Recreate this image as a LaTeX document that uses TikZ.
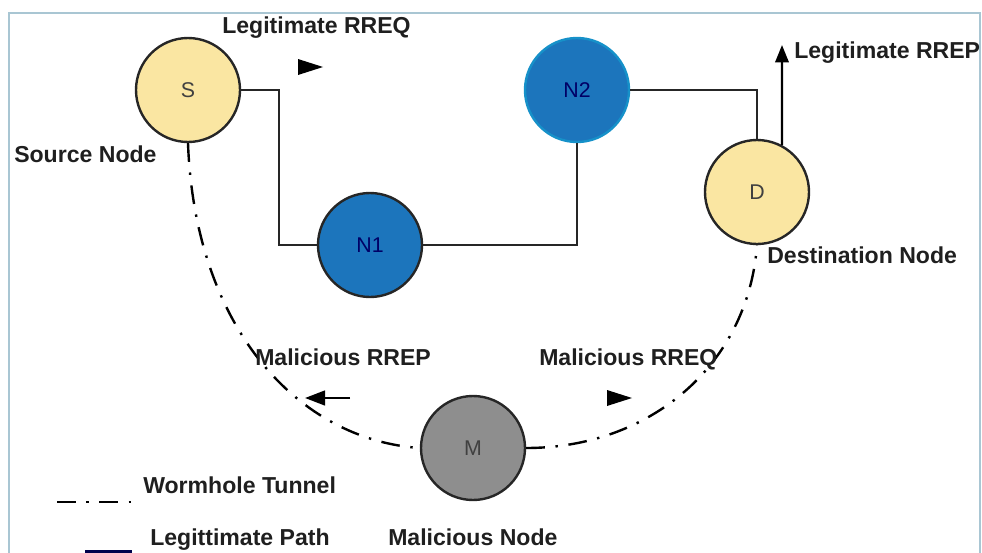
\documentclass[tikz,border=0pt]{standalone}
\usepackage{fontspec}
\setmainfont{Liberation Sans}
\usetikzlibrary{arrows.meta}

\definecolor{endyellow}{HTML}{FAE6A2}
\definecolor{hopblue}{HTML}{1C75BC}
\definecolor{badgray}{HTML}{8E8E8E}
\definecolor{framecol}{HTML}{A9C6D3}

\begin{document}
\begin{tikzpicture}[x=0.75pt,y=0.75pt,yscale=-1,xscale=1,
  netnode/.style={circle,minimum size=78pt,inner sep=0pt,line width=1.8pt,draw=black!85,font=\fontsize{16}{18}\selectfont},
  lbl/.style={anchor=base west,inner sep=0pt,font=\fontsize{17.3}{20}\selectfont\bfseries,text=black!88},
  tunnel/.style={line width=1.8pt,dash pattern=on 14pt off 8pt on 1.8pt off 8pt},
  legit/.style={line width=1.8pt,draw=black!85}]
\useasboundingbox (0,0) rectangle (982,553);

%Frame
\draw[framecol,line width=1.5pt] (9,556) -- (9,13) -- (980,13) -- (980,556);

%Nodes
\node[netnode,fill=endyellow,text=black!75] (S) at (188,90) {S};
\node[netnode,fill=hopblue,text=blue!40!black] (N1) at (370,245) {N1};
\node[netnode,fill=hopblue,draw=hopblue!80!cyan,text=blue!40!black] (N2) at (577,90) {N2};
\node[netnode,fill=endyellow,text=black!75] (D) at (757,192) {D};
\node[netnode,fill=badgray,text=black!75] (M) at (473,448) {M};

%Legitimate path
\draw[legit] (S.east) -- ++(38,0) |- (N1.west);
\draw[legit] (N1.east) -| (N2.south);
\draw[legit] (N2.east) -| (D.north);

%Wormhole tunnel
\draw[tunnel] (S.south) .. controls (195,330) and (300,440) .. (M.west);
\draw[tunnel] (M.east) .. controls (650,448) and (748,365) .. (D.south);

%Arrows
\coordinate (rrepTip) at (782,45);
\draw[line width=1.8pt,-{Triangle[length=13pt,width=10pt]}] (D.62) -- (rrepTip);
\coordinate (mrepTail) at (350,398);
\coordinate (mrepTip) at (305,398);
\draw[line width=1.8pt,-{Triangle[length=15pt,width=11pt]}] (mrepTail) -- (mrepTip);
\fill (298,59) -- (323,67) -- (298,75) -- cycle;
\fill (607,390) -- (632,398) -- (607,406) -- cycle;

% Text Node
\node[lbl] (lrreq) at (222,33) {Legitimate RREQ};
\node[lbl] (srcl) at (14,162) {Source Node};
\node[lbl] (lrrep) at (794,58) {Legitimate RREP};
\node[lbl] (dstl) at (767,263) {Destination Node};
\node[lbl] (mrrep) at (255,365) {Malicious RREP};
\node[lbl] (mrreq) at (539,365) {Malicious RREQ};
\node[lbl] (mall) at (388,545) {Malicious Node};

%Legend
\draw[tunnel] (57,502) -- (140,502);
\node[lbl] (tunl) at (143,493) {Wormhole Tunnel};
\draw[line width=3pt,draw=blue!30!black] (85,552) -- (132,552);
\node[lbl] (pathl) at (150,545) {Legittimate Path};

\end{tikzpicture}
\end{document}
